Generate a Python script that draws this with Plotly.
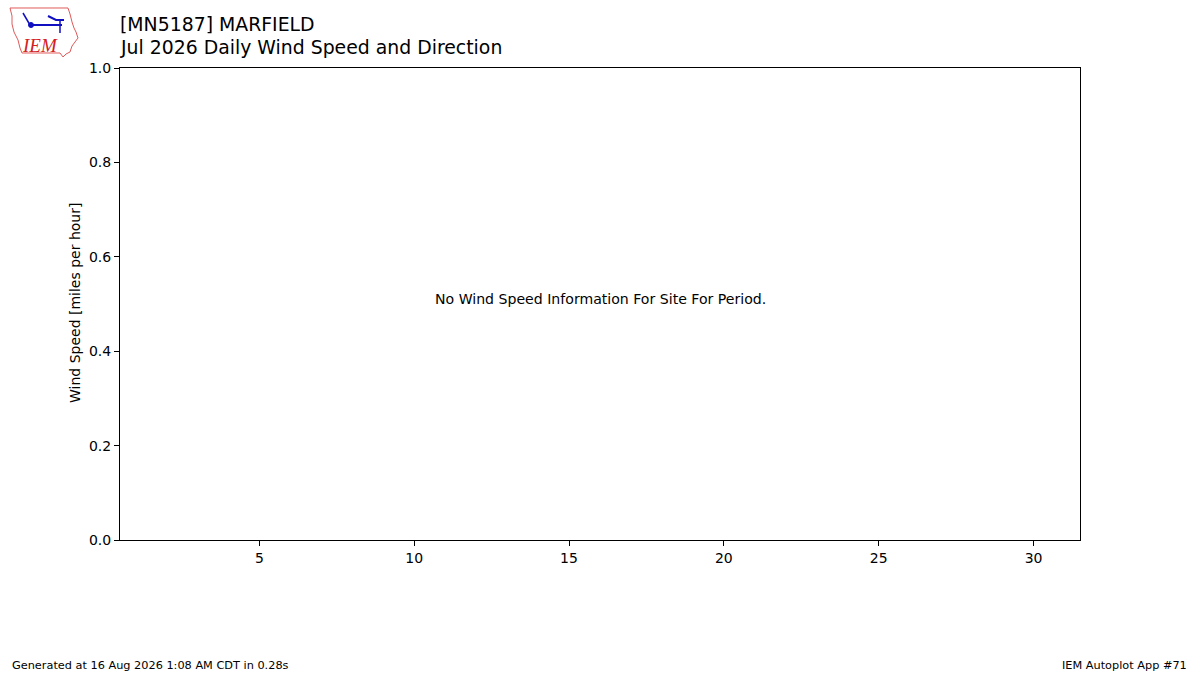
import plotly.graph_objects as go

# station / period (no observations for this month)
station = "[MN5187] MARFIELD"
period_title = "Jul 2026 Daily Wind Speed and Direction"
days = []
wind_speed = []
x_ticks = [5, 10, 15, 20, 25, 30]
y_ticks = [0.0, 0.2, 0.4, 0.6, 0.8, 1.0]
no_data_msg = "No Wind Speed Information For Site For Period."
footer_left = "Generated at 16 Aug 2026 1:08 AM CDT in 0.28s"
footer_right = "IEM Autoplot App #71"

W, H = 1200, 675
L, R, T, B = 120, 1080, 68, 540
FONT = "DejaVu Sans"


def px(x, y):
    # pixel -> paper coords
    return (x - L) / (R - L), (B - y) / (B - T)


def path(points):
    s = ""
    for i, (x, y) in enumerate(points):
        a, b = px(x, y)
        s += ("M" if i == 0 else "L") + f"{a:.5f},{b:.5f} "
    return s


fig = go.Figure()
fig.add_trace(go.Bar(x=days, y=wind_speed, marker_color="#1f77b4", showlegend=False))

# rough IEM logo: Iowa outline, wind symbol, text
iowa = [(10, 8), (68, 8), (70, 14), (72, 22), (74, 28), (76, 32), (78, 38),
        (75, 42), (72, 46), (70, 52), (66, 54), (63, 57), (60, 53), (22, 53),
        (20, 48), (18, 40), (14, 32), (12, 24), (12, 16)]
shapes = [
    dict(type="path", xref="paper", yref="paper", path=path(iowa) + "Z",
         line=dict(color="#e05a5a", width=1), fillcolor="rgba(0,0,0,0)"),
    dict(type="path", xref="paper", yref="paper",
         path=path([(30, 25), (62, 25)]), line=dict(color="#1010c0", width=2)),
    dict(type="path", xref="paper", yref="paper",
         path=path([(30, 25), (23, 13)]), line=dict(color="#1010c0", width=1.5)),
    dict(type="path", xref="paper", yref="paper",
         path=path([(60, 20), (60, 33)]), line=dict(color="#1010c0", width=1.5)),
    dict(type="path", xref="paper", yref="paper",
         path=path([(48, 16), (56, 20), (64, 20)]), line=dict(color="#1010c0", width=2)),
]
cx, cy = px(31, 25)
rx, ry = 2.5 / (R - L), 2.5 / (B - T)
shapes.append(dict(type="circle", xref="paper", yref="paper",
                   x0=cx - rx, x1=cx + rx, y0=cy - ry, y1=cy + ry,
                   fillcolor="#1010c0", line=dict(color="#1010c0", width=1)))

annotations = []


def note(text, x, y, size, xanchor="left", yanchor="middle", color="black",
         family=FONT, angle=0):
    a, b = px(x, y)
    annotations.append(dict(text=text, x=a, y=b, xref="paper", yref="paper",
                            xanchor=xanchor, yanchor=yanchor, showarrow=False,
                            textangle=angle,
                            font=dict(family=family, size=size, color=color)))


note(station, 118, 24, 18.85)
note(period_title, 118, 48, 18.85)
note("<i>IEM</i>", 20, 45, 19, color="#d42020", family="Liberation Serif")
note(no_data_msg, 600, 299, 14.1, xanchor="center")
note("Wind Speed [miles per hour]", 75, 303, 14, xanchor="center", angle=-90)
note(footer_left, 10, 665, 11.3)
note(footer_right, 1189, 665, 11.3, xanchor="right")

axis_common = dict(showline=True, linecolor="black", linewidth=1, mirror=True,
                   ticks="outside", ticklen=5, tickcolor="black", showgrid=False,
                   zeroline=False, tickfont=dict(family=FONT, size=14, color="black"))

fig.update_layout(
    width=W, height=H,
    margin=dict(l=L, r=W - R, t=T, b=H - B),
    paper_bgcolor="white", plot_bgcolor="white",
    xaxis=dict(range=[0.5, 31.5], tickvals=x_ticks, **axis_common),
    yaxis=dict(range=[0, 1], tickvals=y_ticks, tickformat=".1f", **axis_common),
    shapes=shapes,
    annotations=annotations,
    font=dict(family=FONT),
)

fig.write_html("out.html", config={"displayModeBar": False},
               post_script="document.body.style.margin='0';")
